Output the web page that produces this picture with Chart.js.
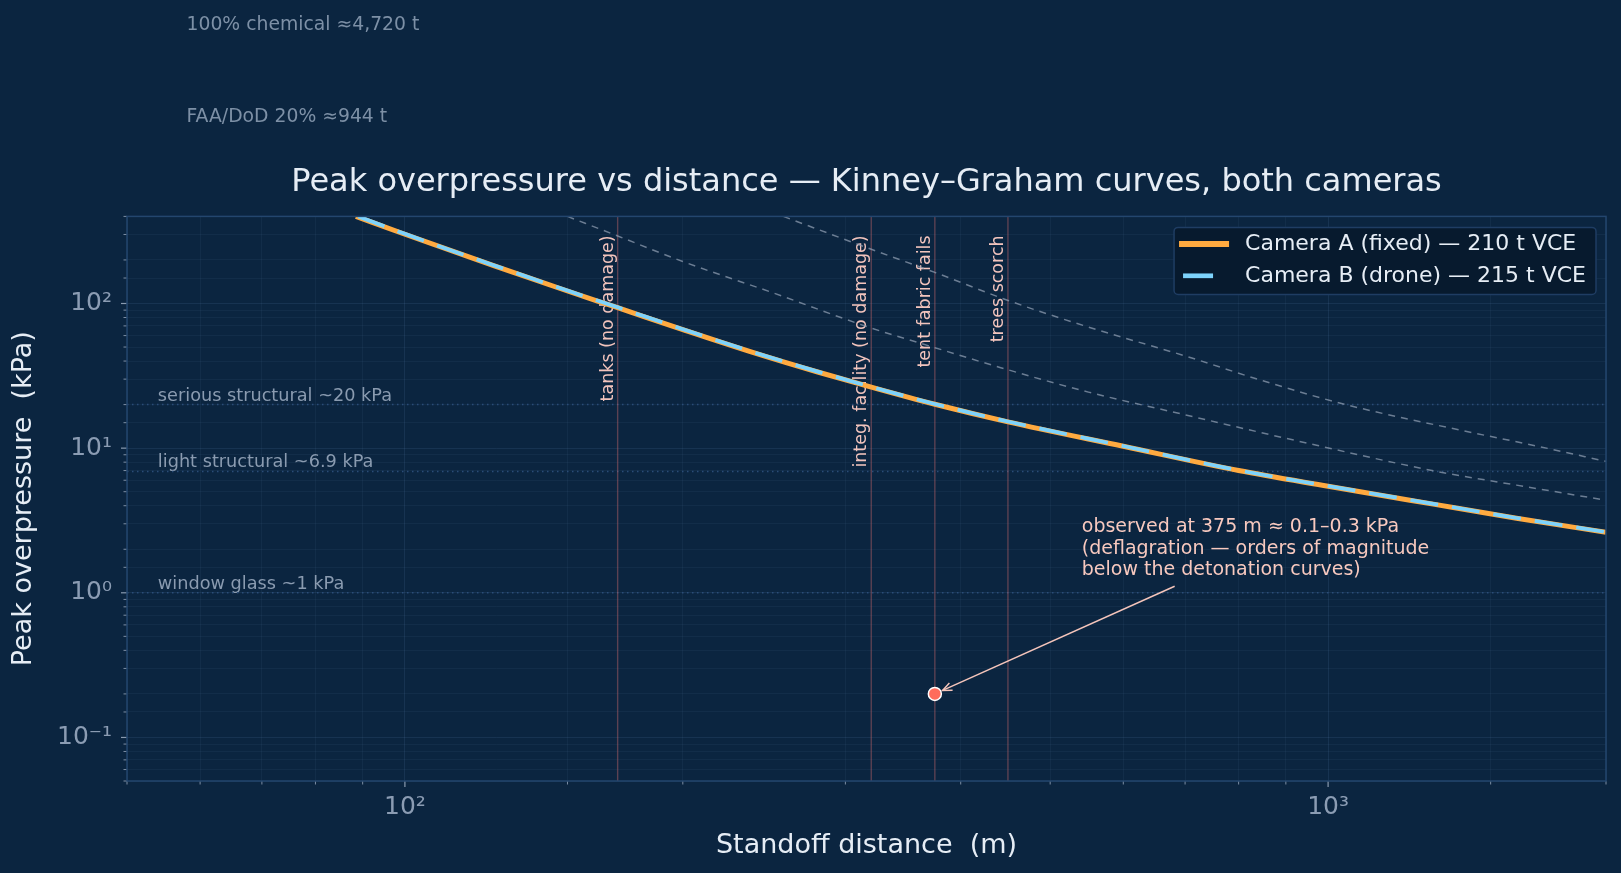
<!DOCTYPE html>
<html>
<head>
<meta charset="utf-8">
<script src="https://cdn.jsdelivr.net/npm/chart.js@4.4.1/dist/chart.umd.min.js"></script>
<style>
    html, body { margin: 0; padding: 0; background: #0b2540; }
    #wrap { width: 1621px; height: 873px; }
</style>
</head>
<body>
<div id="wrap"><canvas id="blast-chart"></canvas></div>
<script>
// Kinney-Graham curves: distance (m) -> peak overpressure (kPa)
const distA = [88.5, 100, 125, 150, 170, 200, 240, 280, 320, 375, 450, 600, 800, 1000, 1300, 1600, 2000];
const pressA = [400, 301, 182, 122, 93.5, 66, 45.2, 33.6, 26.4, 20.1, 15.2, 10.3, 7.0, 5.45, 4.1, 3.28, 2.62];
const distB = [89, 100, 125, 150, 170, 200, 240, 280, 320, 375, 450, 600, 800, 1000, 1300, 1600, 2000];
const pressB = [400, 303, 183.2, 122.8, 94.1, 66.4, 45.5, 33.8, 26.55, 20.2, 15.28, 10.35, 7.03, 5.47, 4.12, 3.29, 2.63];

// reference yields (grey dashed)
const dist944 = [150, 170, 200, 250, 317, 375, 442, 550, 700, 900, 1312, 1600, 2000];
const press944 = [400, 293, 195, 119, 69, 49.5, 36, 24.4, 17, 11.7, 6.9, 5.55, 4.36];
const dist4720 = [257, 320, 375, 451, 550, 700, 850, 1045, 1400, 1700, 2000];
const press4720 = [400, 237, 164, 104.5, 68.7, 43.4, 29.2, 20, 13.2, 10.2, 8.1];

// what was actually observed
const obsDist = [375];
const obsPress = [0.2];

// damage markers along the distance axis
const markerDist = [170, 320, 375, 450];
const markerLabels = ["tanks (no damage)", "integ. facility (no damage)", "tent fabric fails", "trees scorch"];

// damage thresholds on the pressure axis
const refPress = [20, 6.9, 1];
const refLabels = ["serious structural ~20 kPa", "light structural ~6.9 kPa", "window glass ~1 kPa"];

// axis ranges and decade labels
const xRange = [50, 2000];
const yRange = [0.05, 400];
const xTickValues = [100, 1000];
const xTickText = ["10²", "10³"];
const yTickValues = [0.1, 1, 10, 100];
const yTickText = ["10⁻¹", "10⁰", "10¹", "10²"];

// text notes (data coordinates)
const yieldNotes = ["100% chemical ≈4,720 t", "FAA/DoD 20% ≈944 t"];
const yieldNotePos = [[58, 8400], [58, 1950]];
const obsNote = ["observed at 375 m ≈ 0.1–0.3 kPa", "(deflagration — orders of magnitude", "below the detonation curves)"];
const obsNotePos = [541, 2.85];
const obsArrowFrom = [682, 1.11];

const FONT = "DejaVu Sans";
const BG = "#0b2540";
const FRAME = "#23466e";
const ORANGE = "#ffaa40";
const BLUE = "#7dd3fc";

const toPts = (xs, ys) => xs.map((x, i) => ({ x: x, y: ys[i] }));
const isDecade = v => Math.abs(Math.log10(v) - Math.round(Math.log10(v))) < 1e-6;
const tickText = (values, texts) => v => {
    const i = values.findIndex(t => Math.abs(Math.log10(v / t)) < 1e-6);
    return i >= 0 ? texts[i] : "";
};

const datasets = [
    {
        label: "Camera A (fixed) — 210 t VCE",
        data: toPts(distA, pressA),
        borderColor: ORANGE, borderWidth: 5, order: 2, inLegend: true
    },
    {
        label: "Camera B (drone) — 215 t VCE",
        data: toPts(distB, pressB),
        borderColor: BLUE, borderWidth: 3.7, borderDash: [28, 14], order: 1, inLegend: true
    },
    {
        label: "944 t",
        data: toPts(dist944, press944),
        borderColor: "rgba(140,155,175,0.75)", borderWidth: 1.5, borderDash: [7, 6], order: 5
    },
    {
        label: "4720 t",
        data: toPts(dist4720, press4720),
        borderColor: "rgba(140,155,175,0.75)", borderWidth: 1.5, borderDash: [7, 6], order: 5
    },
    ...refPress.map(p => ({
        label: "ref " + p,
        data: toPts(xRange, [p, p]),
        borderColor: "#2a4d78", borderWidth: 1.5, borderDash: [1.5, 3.5], order: 7
    })),
    ...markerDist.map(d => ({
        label: "marker " + d,
        data: toPts([d, d], yRange),
        borderColor: "rgba(190,100,105,0.45)", borderWidth: 1.4, order: 6
    })),
    {
        label: "observed",
        data: toPts(obsDist, obsPress),
        showLine: false, pointRadius: 6.5, pointBackgroundColor: "#ff6b5b",
        pointBorderColor: "#ffffff", pointBorderWidth: 1.5, order: 0
    }
];
datasets.forEach(ds => {
    if (ds.pointRadius === undefined) ds.pointRadius = 0;
    ds.fill = false;
    ds.cubicInterpolationMode = "monotone";
});

// labels that sit under the curves
const underLabels = {
    id: "underLabels",
    beforeDatasetsDraw(chart) {
        const { ctx, chartArea, scales: { x, y } } = chart;
        ctx.save();
        ctx.beginPath();
        ctx.rect(chartArea.left, chartArea.top, chartArea.width, chartArea.height);
        ctx.clip();

        ctx.fillStyle = "#8a9bb0";
        ctx.font = "17.7px '" + FONT + "'";
        ctx.textAlign = "left";
        ctx.textBaseline = "alphabetic";
        refPress.forEach((p, i) => {
            ctx.fillText(refLabels[i], x.getPixelForValue(54), y.getPixelForValue(p) - 4);
        });

        ctx.fillStyle = "#f2c4bd";
        ctx.font = "17.5px '" + FONT + "'";
        markerDist.forEach((d, i) => {
            ctx.save();
            ctx.translate(x.getPixelForValue(d) - 5, chartArea.top + 19);
            ctx.rotate(-Math.PI / 2);
            ctx.textAlign = "right";
            ctx.fillText(markerLabels[i], 0, 0);
            ctx.restore();
        });
        ctx.restore();
    }
};

// frame, tick marks, notes, arrow, legend
const overlay = {
    id: "overlay",
    afterDraw(chart) {
        const { ctx, chartArea: a, scales: { x, y } } = chart;
        ctx.save();

        // tick marks: long at decades, short otherwise
        ctx.strokeStyle = "#8a9bb0";
        x.ticks.forEach(t => {
            const px = x.getPixelForValue(t.value);
            const len = isDecade(t.value) ? 6 : 3.5;
            ctx.lineWidth = isDecade(t.value) ? 1.2 : 0.9;
            ctx.beginPath(); ctx.moveTo(px, a.bottom); ctx.lineTo(px, a.bottom + len); ctx.stroke();
        });
        y.ticks.forEach(t => {
            const py = y.getPixelForValue(t.value);
            const len = isDecade(t.value) ? 6 : 3.5;
            ctx.lineWidth = isDecade(t.value) ? 1.2 : 0.9;
            ctx.beginPath(); ctx.moveTo(a.left, py); ctx.lineTo(a.left - len, py); ctx.stroke();
        });

        // plot frame
        ctx.strokeStyle = FRAME;
        ctx.lineWidth = 1.5;
        ctx.strokeRect(a.left, a.top, a.width, a.height);

        // yield notes above the plot
        ctx.fillStyle = "#7d90a6";
        ctx.font = "18.8px '" + FONT + "'";
        ctx.textAlign = "left";
        ctx.textBaseline = "middle";
        yieldNotes.forEach((txt, i) => {
            ctx.fillText(txt, x.getPixelForValue(yieldNotePos[i][0]), y.getPixelForValue(yieldNotePos[i][1]));
        });

        // observed note + arrow
        ctx.fillStyle = "#f8c9bf";
        ctx.font = "19px '" + FONT + "'";
        const nx = x.getPixelForValue(obsNotePos[0]);
        const ny = y.getPixelForValue(obsNotePos[1]);
        obsNote.forEach((line, i) => ctx.fillText(line, nx, ny + i * 21.7));

        const sx = x.getPixelForValue(obsArrowFrom[0]);
        const sy = y.getPixelForValue(obsArrowFrom[1]);
        const px = x.getPixelForValue(obsDist[0]);
        const py = y.getPixelForValue(obsPress[0]);
        const ang = Math.atan2(py - sy, px - sx);
        const ex = px - Math.cos(ang) * 8.5;
        const ey = py - Math.sin(ang) * 8.5;
        ctx.strokeStyle = "#f5c5bb";
        ctx.lineWidth = 1.5;
        ctx.beginPath(); ctx.moveTo(sx, sy); ctx.lineTo(ex, ey); ctx.stroke();
        ctx.beginPath();
        ctx.moveTo(ex - 10 * Math.cos(ang - 0.4), ey - 10 * Math.sin(ang - 0.4));
        ctx.lineTo(ex, ey);
        ctx.lineTo(ex - 10 * Math.cos(ang + 0.4), ey - 10 * Math.sin(ang + 0.4));
        ctx.stroke();

        // legend box
        const items = chart.data.datasets.filter(ds => ds.inLegend);
        ctx.font = "22px '" + FONT + "'";
        const textW = Math.max(...items.map(ds => ctx.measureText(ds.label).width));
        const boxW = 5 + 50 + 16 + textW + 10;
        const boxH = 67;
        const bx = a.right - 10 - boxW;
        const by = a.top + 11;
        ctx.fillStyle = "#071a2e";
        ctx.strokeStyle = "#1f3d63";
        ctx.lineWidth = 1.5;
        ctx.beginPath();
        ctx.roundRect(bx, by, boxW, boxH, 4);
        ctx.fill();
        ctx.stroke();
        items.forEach((ds, i) => {
            const ry = by + 16.7 + i * 31.7;
            ctx.strokeStyle = ds.borderColor;
            ctx.lineWidth = ds.borderWidth + 1;
            ctx.beginPath();
            if (ds.borderDash) {
                ctx.moveTo(bx + 9, ry); ctx.lineTo(bx + 39, ry);
            } else {
                ctx.moveTo(bx + 5, ry); ctx.lineTo(bx + 55, ry);
            }
            ctx.stroke();
            ctx.fillStyle = "#e6edf5";
            ctx.textBaseline = "middle";
            ctx.fillText(ds.label, bx + 71, ry);
        });

        ctx.restore();
    }
};

const bgFill = {
    id: "bgFill",
    beforeDraw(chart) {
        const { ctx, width, height } = chart;
        ctx.save();
        ctx.fillStyle = BG;
        ctx.fillRect(0, 0, width, height);
        ctx.restore();
    }
};

const gridColor = ctx => isDecade(ctx.tick.value) ? "rgba(110,150,200,0.13)" : "rgba(110,150,200,0.07)";

new Chart(document.getElementById("blast-chart"), {
    type: "line",
    data: { datasets: datasets },
    options: {
        responsive: true,
        maintainAspectRatio: false,
        devicePixelRatio: 1,
        animation: false,
        events: [],
        layout: { padding: { left: 0, right: 15, top: 0, bottom: 0 } },
        plugins: {
            legend: { display: false },
            tooltip: { enabled: false },
            title: {
                display: true,
                fullSize: false,
                text: "Peak overpressure vs distance — Kinney–Graham curves, both cameras",
                color: "#e6edf5",
                font: { family: FONT, size: 32, weight: "normal" },
                padding: { top: 163, bottom: 15 }
            }
        },
        scales: {
            x: {
                type: "logarithmic",
                min: xRange[0], max: xRange[1],
                afterFit: s => { s.height = 92; },
                grid: { color: gridColor, lineWidth: 1, drawTicks: false },
                border: { display: false },
                ticks: {
                    autoSkip: false, maxRotation: 0, padding: 11,
                    color: "#8b9cb3", font: { family: FONT, size: 25 },
                    callback: tickText(xTickValues, xTickText)
                },
                title: {
                    display: true, text: "Standoff distance  (m)", color: "#e6edf5",
                    font: { family: FONT, size: 27 }, padding: { top: 0, bottom: 11 }
                }
            },
            y: {
                type: "logarithmic",
                min: yRange[0], max: yRange[1],
                afterFit: s => { s.width = 127; },
                grid: { color: gridColor, lineWidth: 1, drawTicks: false },
                border: { display: false },
                ticks: {
                    autoSkip: false, padding: 15,
                    color: "#8b9cb3", font: { family: FONT, size: 25 },
                    callback: tickText(yTickValues, yTickText)
                },
                title: {
                    display: true, text: "Peak overpressure  (kPa)", color: "#e6edf5",
                    font: { family: FONT, size: 27 }, padding: { top: 8, bottom: 0 }
                }
            }
        }
    },
    plugins: [bgFill, underLabels, overlay]
});
</script>
</body>
</html>
